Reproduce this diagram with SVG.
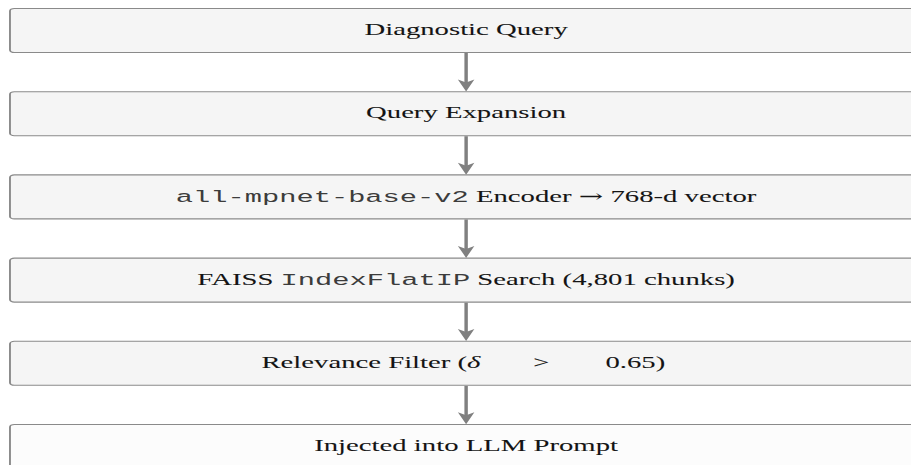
<svg xmlns="http://www.w3.org/2000/svg" width="911" height="465" viewBox="0 0 911 465">
<defs>
<style>
.box{fill:#f5f5f5;stroke:#8a8a8a;stroke-width:1.1}
.box.last{fill:#fcfcfc}
.t{font-family:"Liberation Serif","Times New Roman",serif;font-size:16.7px;fill:#141414;stroke:#141414;stroke-width:0.06;text-anchor:middle}
.m{font-family:"Liberation Mono","Courier New",monospace;fill:#3c3c3c;stroke:none}
.i{font-style:italic}
.ar{font-family:"DejaVu Serif",serif;font-size:17px;stroke:none}
.edge{stroke:#808080;stroke-width:2;fill:none}
</style>
<marker id="ah" markerUnits="userSpaceOnUse" orient="auto" refX="0" refY="0" markerWidth="20" markerHeight="20" overflow="visible">
<path d="M7.5,0 L-4.5,-4.8 L-1.5,0 L-4.5,4.8 Z" fill="#808080"/>
</marker>
</defs>
<rect width="911" height="465" fill="#ffffff"/>
<g transform="scale(1.72,1)">
<g id="connectors">
<line class="edge" x1="271" y1="53" x2="271" y2="84" marker-end="url(#ah)"/>
<line class="edge" x1="271" y1="136.2" x2="271" y2="167.2" marker-end="url(#ah)"/>
<line class="edge" x1="271" y1="219.4" x2="271" y2="250.4" marker-end="url(#ah)"/>
<line class="edge" x1="271" y1="302.6" x2="271" y2="333.6" marker-end="url(#ah)"/>
<line class="edge" x1="271" y1="385.8" x2="271" y2="416.8" marker-end="url(#ah)"/>
</g>
<g id="n1">
<rect class="box" x="5.8" y="8.5" width="530" height="44" rx="2.5"/>
<text class="t" x="271" y="35.2">Diagnostic Query</text>
</g>
<g id="n2">
<rect class="box" x="5.8" y="91.7" width="530" height="44" rx="2.5"/>
<text class="t" x="271" y="118.4">Query Expansion</text>
</g>
<g id="n3">
<rect class="box" x="5.8" y="174.9" width="530" height="44" rx="2.5"/>
<text class="t" x="271" y="201.6"><tspan class="m">all-mpnet-base-v2</tspan> Encoder <tspan class="ar">→</tspan> 768-d vector</text>
</g>
<g id="n4">
<rect class="box" x="5.8" y="258.1" width="530" height="44" rx="2.5"/>
<text class="t" x="271" y="284.8">FAISS <tspan class="m">IndexFlatIP</tspan> Search (4,801 chunks)</text>
</g>
<g id="n5">
<rect class="box" x="5.8" y="341.3" width="530" height="44" rx="2.5"/>
<text class="t" y="368" style="text-anchor:start"><tspan x="152">Relevance Filter (</tspan><tspan class="i">δ</tspan><tspan x="310">&gt;</tspan><tspan x="352">0.65)</tspan></text>
</g>
<g id="n6">
<rect class="box last" x="5.8" y="424.5" width="530" height="44" rx="2.5"/>
<text class="t" x="271" y="451.2">Injected into LLM Prompt</text>
</g>
</g>
</svg>
